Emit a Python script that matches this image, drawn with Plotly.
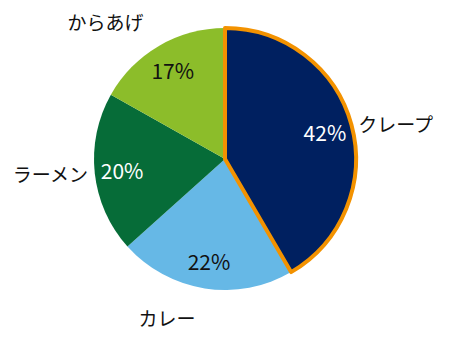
import plotly.graph_objects as go

labels = ["クレープ", "カレー", "ラーメン", "からあげ"]
values = [42, 22, 20, 17]
pct_text = ["42%", "22%", "20%", "17%"]
colors = ["#002060", "#66b8e6", "#066c38", "#8cbd2a"]
text_colors = ["white", "#111111", "white", "#111111"]

W, H = 449, 341
cx, cy, R = 225, 159, 131
dom_x = [(cx - R) / W, (cx + R) / W]
dom_y = [1 - (cy + R) / H, 1 - (cy - R) / H]

label_pull = [0, 0.12, 0, 0.13]
Rl = R * (1 + max(label_pull))
dom_x2 = [(cx - Rl) / W, (cx + Rl) / W]
dom_y2 = [1 - (cy + Rl) / H, 1 - (cy - Rl) / H]
font_family = "Noto Sans CJK JP, Noto Sans, sans-serif"
clear = ["rgba(0,0,0,0)"] * 4

common = dict(sort=False, direction="clockwise", rotation=0,
              showlegend=False, hoverinfo="skip", automargin=False)

# filled slices
fig = go.Figure()
fig.add_trace(go.Pie(
    labels=labels, values=values, textinfo="none",
    marker=dict(colors=colors, line=dict(width=0)),
    domain=dict(x=dom_x, y=dom_y), **common,
))
# percentages (placed in a ring so they sit near the rim)
fig.add_trace(go.Pie(
    labels=labels, values=values, text=pct_text, hole=0.58,
    textinfo="text", textposition="inside",
    insidetextorientation="horizontal",
    insidetextfont=dict(color=text_colors, size=21, family=font_family),
    marker=dict(colors=clear, line=dict(width=0)),
    domain=dict(x=dom_x, y=dom_y), **common,
))
# highlighted border on the first slice
fig.add_trace(go.Pie(
    labels=labels, values=values, textinfo="none",
    marker=dict(colors=clear,
                line=dict(color=["#f39200"] + clear[1:], width=[4, 0, 0, 0])),
    domain=dict(x=dom_x, y=dom_y), **common,
))
# category labels outside
fig.add_trace(go.Pie(
    labels=labels, values=values, pull=label_pull,
    textinfo="label", textposition="outside",
    outsidetextfont=dict(color="#111111", size=19, family=font_family),
    marker=dict(colors=clear, line=dict(width=0)),
    domain=dict(x=dom_x2, y=dom_y2), **common,
))
fig.update_layout(
    width=W, height=H,
    margin=dict(l=0, r=0, t=0, b=0),
    paper_bgcolor="white", plot_bgcolor="white",
)
fig.write_html("out.html")
